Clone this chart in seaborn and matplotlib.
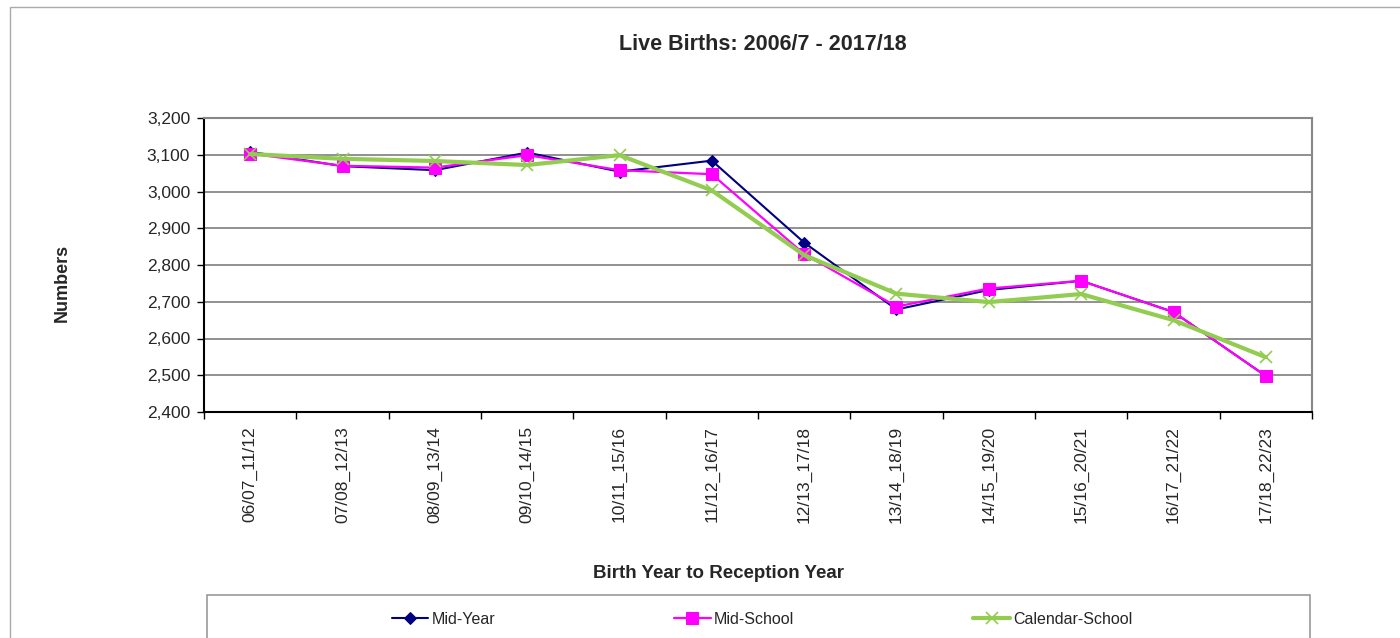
import matplotlib
matplotlib.use("Agg")
import matplotlib.pyplot as plt
import matplotlib.ticker as mticker
from matplotlib.patches import Rectangle
import pandas as pd
import seaborn as sns

periods = ["06/07_11/12", "07/08_12/13", "08/09_13/14", "09/10_14/15",
           "10/11_15/16", "11/12_16/17", "12/13_17/18", "13/14_18/19",
           "14/15_19/20", "15/16_20/21", "16/17_21/22", "17/18_22/23"]
mid_year = [3108, 3069, 3058, 3106, 3054, 3084, 2861, 2679, 2732, 2757, 2672, 2498]
mid_school = [3103, 3070, 3065, 3099, 3058, 3047, 2830, 2687, 2736, 2757, 2672, 2498]
calendar_school = [3102, 3089, 3083, 3072, 3099, 3003, 2827, 2722, 2699, 2721, 2650, 2549]

series = {"Mid-Year": mid_year, "Mid-School": mid_school,
          "Calendar-School": calendar_school}
styles = {
    "Mid-Year": dict(color="#000080", marker="D", markersize=6,
                     markeredgecolor="#000080", linewidth=1.5),
    "Mid-School": dict(color="#FF00FF", marker="s", markersize=8.5,
                       markeredgecolor="#FF00FF", linewidth=1.6),
    "Calendar-School": dict(color="#92CC50", marker="x", markersize=8,
                            markeredgecolor="#92CC50", markeredgewidth=1.2,
                            linewidth=3),
}

df = pd.DataFrame({"period": periods, **series})

sns.set_theme(style="white")
plt.rcParams["font.family"] = ["Liberation Sans", "DejaVu Sans"]

fig = plt.figure(figsize=(14, 6.38), dpi=100)
ax = fig.add_axes([204 / 1400, 1 - 412 / 638, (1312 - 204) / 1400, (412 - 118) / 638])

for name in series:
    sns.lineplot(data=df, x="period", y=name, ax=ax, sort=False, label=name,
                 **styles[name])

ax.set_ylim(2400, 3200)
ax.set_xlim(-0.5, len(periods) - 0.5)
ax.yaxis.set_major_locator(mticker.MultipleLocator(100))
ax.yaxis.set_major_formatter(mticker.FuncFormatter(lambda v, p: f"{v:,.0f}"))
ax.grid(axis="y", color="#888888", linewidth=1.3)
ax.set_axisbelow(True)

ax.set_xticks(range(len(periods)))
ax.set_xticklabels(periods, rotation=90, fontsize=12.5)
ax.set_xticks([i - 0.5 for i in range(len(periods) + 1)], minor=True)
ax.tick_params(axis="x", which="major", length=0, pad=10)
ax.tick_params(axis="x", which="minor", length=5, width=1, color="black", direction="out")
ax.tick_params(axis="y", length=5, width=1, color="black", direction="out",
               left=True, labelsize=12.5, pad=5)
ax.tick_params(axis="x", bottom=True, which="both")

for side in ["left", "bottom"]:
    ax.spines[side].set_color("black")
    ax.spines[side].set_linewidth(1.5)
for side in ["top", "right"]:
    ax.spines[side].set_color("#888888")
    ax.spines[side].set_linewidth(1.5)

ax.set_xlabel("")
ax.set_ylabel("")
ax.get_legend().remove()

fig.text(763 / 1400, 1 - 45 / 638, "Live Births: 2006/7 - 2017/18",
         ha="center", va="center", fontsize=15.5, fontweight="bold")
fig.text(62 / 1400, 1 - 283 / 638, "Numbers", rotation=90,
         ha="center", va="center", fontsize=13, fontweight="bold")
fig.text(718 / 1400, 1 - 573 / 638, "Birth Year to Reception Year",
         ha="center", va="center", fontsize=13.5, fontweight="bold")

# outer chart border and legend box
fig.patches.append(Rectangle((9.5 / 1400, -0.05), 1.1, 1 - 7 / 638 + 0.05,
                             transform=fig.transFigure, fill=False,
                             edgecolor="#aaaaaa", linewidth=1))
fig.patches.append(Rectangle((207 / 1400, -0.05), (1310 - 207) / 1400,
                             1 - 595 / 638 + 0.05, transform=fig.transFigure,
                             fill=False, edgecolor="#999999", linewidth=1.2))

handles, labels = ax.get_legend_handles_labels()
fig.legend(handles, labels, loc="center", bbox_to_anchor=(762 / 1400, 1 - 619 / 638),
           ncol=3, frameon=False, fontsize=11.5, handlelength=2.3,
           handletextpad=0.2, columnspacing=11.2)

fig.savefig("out.png", dpi=100, facecolor="white")
